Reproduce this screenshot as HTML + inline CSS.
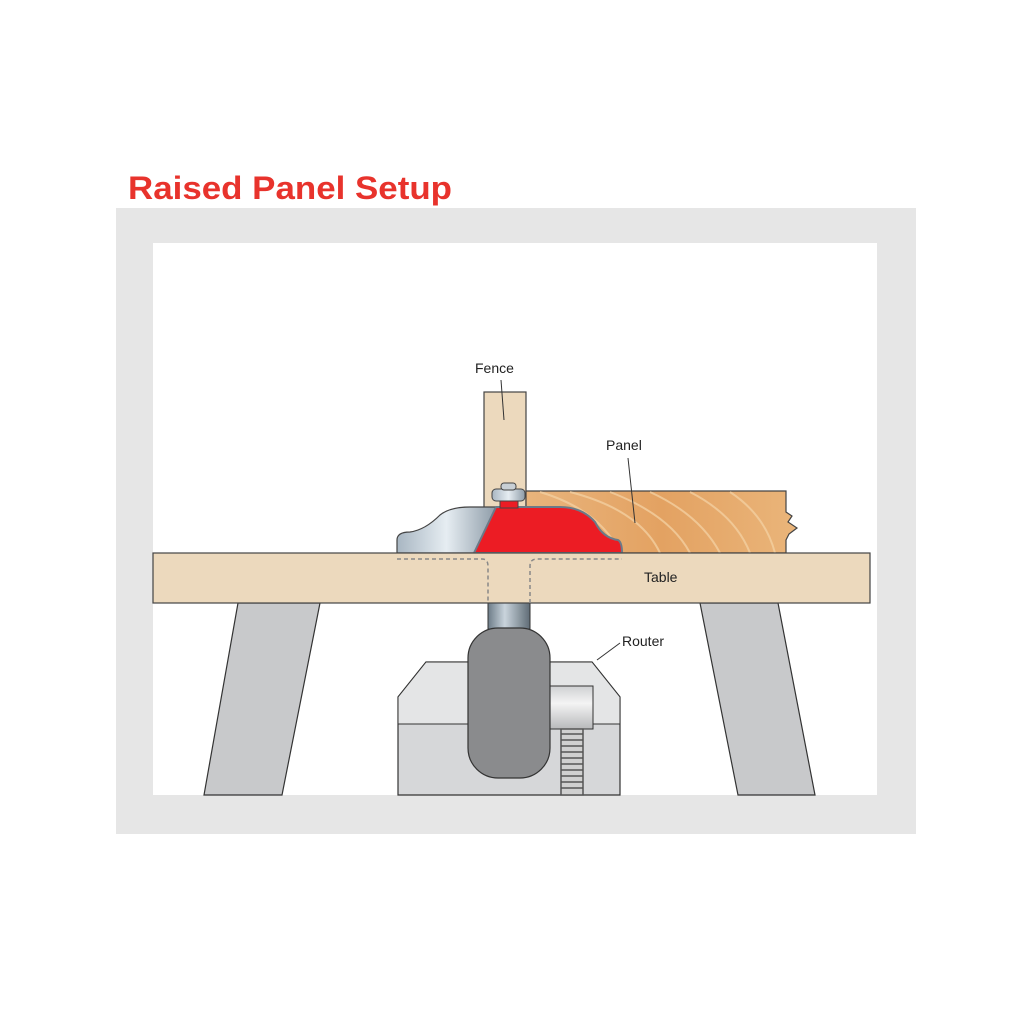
<!DOCTYPE html>
<html><head><meta charset="utf-8"><style>
html,body{margin:0;padding:0;background:#fff;width:1024px;height:1024px;overflow:hidden}
svg{display:block}
text{font-family:"Liberation Sans",Arial,sans-serif}
</style></head><body>
<svg width="1024" height="1024" viewBox="0 0 1024 1024" xmlns="http://www.w3.org/2000/svg">
<defs>
<linearGradient id="wood" x1="0" y1="0" x2="1" y2="0">
<stop offset="0" stop-color="#e9b47c"/><stop offset="0.5" stop-color="#e3a262"/><stop offset="1" stop-color="#eab57a"/>
</linearGradient>
<linearGradient id="steel" x1="0" y1="0" x2="1" y2="0">
<stop offset="0" stop-color="#a8b6c2"/><stop offset="0.5" stop-color="#e6edf2"/><stop offset="1" stop-color="#8e9ca8"/>
</linearGradient>
<linearGradient id="shaft" x1="0" y1="0" x2="1" y2="0">
<stop offset="0" stop-color="#6d7c88"/><stop offset="0.4" stop-color="#c9d4dc"/><stop offset="1" stop-color="#5f6c76"/>
</linearGradient>
<linearGradient id="cyl" x1="0" y1="0" x2="0" y2="1">
<stop offset="0" stop-color="#cfd0d2"/><stop offset="0.4" stop-color="#f4f4f4"/><stop offset="1" stop-color="#b8b9bb"/>
</linearGradient>
</defs>
<text x="128" y="199" font-size="32" font-weight="bold" fill="#e8332c" textLength="324" lengthAdjust="spacingAndGlyphs">Raised Panel Setup</text>
<rect x="116" y="208" width="800" height="626" fill="#e6e6e6"/>
<rect x="153" y="243" width="724" height="552" fill="#fff"/>
<polygon points="238,603 320,603 282,795 204,795" fill="#c8c9cb" stroke="#333" stroke-width="1.2"/>
<polygon points="700,603 778,603 815,795 738,795" fill="#c8c9cb" stroke="#333" stroke-width="1.2"/>
<polygon points="426,662 592,662 620,697 620,795 398,795 398,697" fill="#d6d7d9" stroke="#333" stroke-width="1.2"/>
<polygon points="426,662 592,662 620,697 620,724 398,724 398,697" fill="#e4e5e6" stroke="#333" stroke-width="1"/>
<rect x="550" y="686" width="43" height="43" fill="url(#cyl)" stroke="#333" stroke-width="1"/>
<g stroke="#555" stroke-width="1.5" fill="#ddd">
<rect x="561" y="729" width="22" height="66" fill="#d0d0d0"/>
<path d="M561,734h22M561,740h22M561,746h22M561,752h22M561,758h22M561,764h22M561,770h22M561,776h22M561,782h22M561,788h22" fill="none"/>
</g>
<rect x="488" y="603" width="42" height="26" fill="url(#shaft)" stroke="#333" stroke-width="1"/>
<rect x="468" y="628" width="82" height="150" rx="30" fill="#8a8b8d" stroke="#333" stroke-width="1.2"/>
<rect x="484" y="392" width="42" height="161" fill="#ecd9bd" stroke="#444" stroke-width="1.2"/>
<path d="M526,491 H786 V512 L792,516 L788,522 L797,528 L789,534 L786,540 V553 H526 Z" fill="url(#wood)" stroke="#444" stroke-width="1.2"/>
<g fill="none" stroke="#f3cfa0" stroke-width="2" opacity="0.8">
<path d="M540,492 Q600,510 620,553"/><path d="M570,492 Q640,510 660,553"/><path d="M610,492 Q670,515 690,553"/>
<path d="M650,492 Q700,515 720,553"/><path d="M690,492 Q735,515 750,553"/><path d="M730,492 Q765,515 775,553"/>
</g>
<path d="M397,553 V540 Q397,532 410,532 Q425,530 440,515 Q450,507 470,507 H496 L474,553 Z" fill="url(#steel)" stroke="#444" stroke-width="1.2"/>
<path d="M474,553 L496,507 H560 Q582,507 595,522 Q603,538 618,540 Q622,542 622,553 Z" fill="#ec1c24" stroke="#6b7a88" stroke-width="2"/>
<rect x="500" y="500" width="18" height="8" fill="#ec1c24" stroke="#444" stroke-width="1"/>
<rect x="492" y="489" width="33" height="12" rx="4" fill="url(#steel)" stroke="#444" stroke-width="1"/>
<rect x="501" y="483" width="15" height="7" rx="3" fill="#c8cfd5" stroke="#444" stroke-width="1"/>
<rect x="153" y="553" width="717" height="50" fill="#ecd9bd" stroke="#444" stroke-width="1.2"/>
<path d="M397,559 H482 Q488,559 488,566 V603 M530,603 V566 Q530,559 537,559 H622" fill="none" stroke="#888" stroke-width="1.5" stroke-dasharray="4,3"/>
<g font-size="14" fill="#222">
<text x="475" y="373">Fence</text>
<text x="606" y="450">Panel</text>
<text x="644" y="582">Table</text>
<text x="622" y="646">Router</text>
</g>
<g stroke="#333" stroke-width="1" fill="none">
<path d="M501,380 L504,420"/>
<path d="M628,458 L635,523"/>
<path d="M620,643 L597,660"/>
</g>
</svg>
</body></html>
